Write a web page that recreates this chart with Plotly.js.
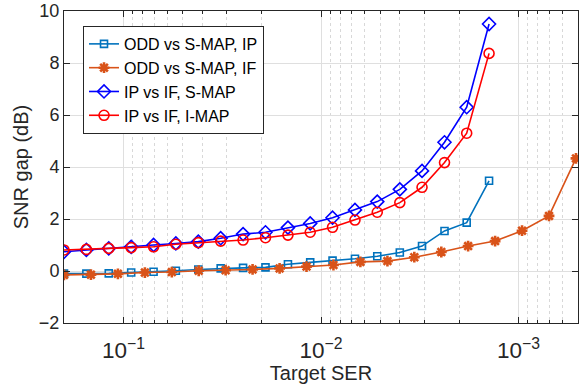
<!DOCTYPE html>
<html>
<head>
<meta charset="utf-8">
<script src="https://cdn.plot.ly/plotly-3.0.1.min.js"></script>
<style>html,body{margin:0;padding:0;background:#fff;}#chart{width:579px;height:384px;}</style>
</head>
<body>
<div id="chart"></div>
<script>
// Target SER for the IP-based curves (20 points)
const serA = [0.2, 0.1541, 0.1187, 0.0914, 0.0704, 0.0543, 0.0418, 0.0322, 0.0248, 0.0191,
              0.0147, 0.01134, 0.00874, 0.00673, 0.00519, 0.00399, 0.00308, 0.00237, 0.00183, 0.00141];
// Target SER for the ODD vs S-MAP, IF curve (20 points)
const serB = [0.2, 0.1461, 0.1067, 0.0779, 0.0569, 0.0416, 0.0304, 0.0222, 0.0162, 0.01184,
              0.00865, 0.00632, 0.00461, 0.00337, 0.00246, 0.0018, 0.001314, 0.00096, 0.000701, 0.000512];

const oddIP  = [-0.10, -0.10, -0.09, -0.06, -0.03, 0.01, 0.06, 0.10, 0.12, 0.14,
                0.26, 0.33, 0.40, 0.47, 0.57, 0.71, 0.96, 1.54, 1.86, 3.47];
const oddIF  = [-0.15, -0.14, -0.11, -0.06, -0.04, 0.01, 0.03, 0.06, 0.10, 0.17,
                0.23, 0.35, 0.38, 0.53, 0.73, 0.96, 1.15, 1.55, 2.12, 4.33];
const ipifS  = [0.74, 0.81, 0.87, 0.93, 1.00, 1.06, 1.13, 1.26, 1.42, 1.49,
                1.67, 1.83, 2.05, 2.35, 2.67, 3.14, 3.85, 4.95, 6.30, 9.50];
const ipifI  = [0.81, 0.83, 0.87, 0.90, 0.93, 1.03, 1.09, 1.15, 1.19, 1.28,
                1.38, 1.49, 1.68, 1.96, 2.26, 2.63, 3.22, 4.17, 5.30, 8.37];

const names = ['ODD vs S-MAP, IP', 'ODD vs S-MAP, IF', 'IP vs IF, S-MAP', 'IP vs IF, I-MAP'];

const traces = [
  {x: serA, y: oddIP, name: names[0], mode: 'lines+markers',
   line: {color: '#0072BD', width: 1.6},
   marker: {symbol: 'square-open', size: 7, color: '#0072BD', line: {width: 1.6, color: '#0072BD'}}},
  {x: serB, y: oddIF, name: names[1], mode: 'lines+markers',
   line: {color: '#D95319', width: 1.6},
   marker: {symbol: 'asterisk-open', size: 9, color: '#D95319', line: {width: 2.6, color: '#D95319'}}},
  {x: serA, y: ipifS, name: names[2], mode: 'lines+markers',
   line: {color: '#0000FF', width: 1.6},
   marker: {symbol: 'diamond-open', size: 10, color: '#0000FF', line: {width: 1.6, color: '#0000FF'}}},
  {x: serA, y: ipifI, name: names[3], mode: 'lines+markers',
   line: {color: '#FF0000', width: 1.6},
   marker: {symbol: 'circle-open', size: 10, color: '#FF0000', line: {width: 1.6, color: '#FF0000'}}}
];

const axisCol = '#262626';
const layout = {
  width: 579, height: 384,
  margin: {l: 64, r: 1, t: 11, b: 61},
  paper_bgcolor: '#fff', plot_bgcolor: '#fff',
  font: {family: 'Liberation Sans, Arial, sans-serif', color: axisCol, size: 16},
  showlegend: true,
  legend: {x: 0.037, y: 0.952, xanchor: 'left', yanchor: 'top',
           bgcolor: '#fff', bordercolor: axisCol, borderwidth: 1,
           font: {size: 16, color: '#000'}, tracegroupgap: 0},
  xaxis: {
    type: 'log', range: [Math.log10(0.2), Math.log10(5e-4)],
    dtick: 1, exponentformat: 'power', showexponent: 'all',
    ticks: 'inside', ticklen: 6, tickcolor: axisCol, tickwidth: 1,
    ticklabelstandoff: 8,
    showline: true, linecolor: axisCol, linewidth: 1, mirror: 'ticks',
    showgrid: true, gridcolor: '#dfdfdf', gridwidth: 1,
    zeroline: false,
    tickfont: {size: 18, color: axisCol},
    minor: {dtick: 'D1', ticks: 'inside', ticklen: 3, tickcolor: axisCol,
            showgrid: true, gridcolor: '#d8d8d8', griddash: 'dot', gridwidth: 1},
    title: {text: 'Target SER', font: {size: 20, color: axisCol}, standoff: 2}
  },
  yaxis: {
    range: [-2, 10], dtick: 2,
    ticks: 'inside', ticklen: 6, tickcolor: axisCol,
    showline: true, linecolor: axisCol, linewidth: 1, mirror: 'ticks',
    showgrid: true, gridcolor: '#dfdfdf', gridwidth: 1,
    zeroline: false,
    tickfont: {size: 18, color: axisCol},
    title: {text: 'SNR gap (dB)', font: {size: 20, color: axisCol}, standoff: 4}
  }
};

Plotly.newPlot('chart', traces, layout, {staticPlot: true, displayModeBar: false});
</script>
</body>
</html>
